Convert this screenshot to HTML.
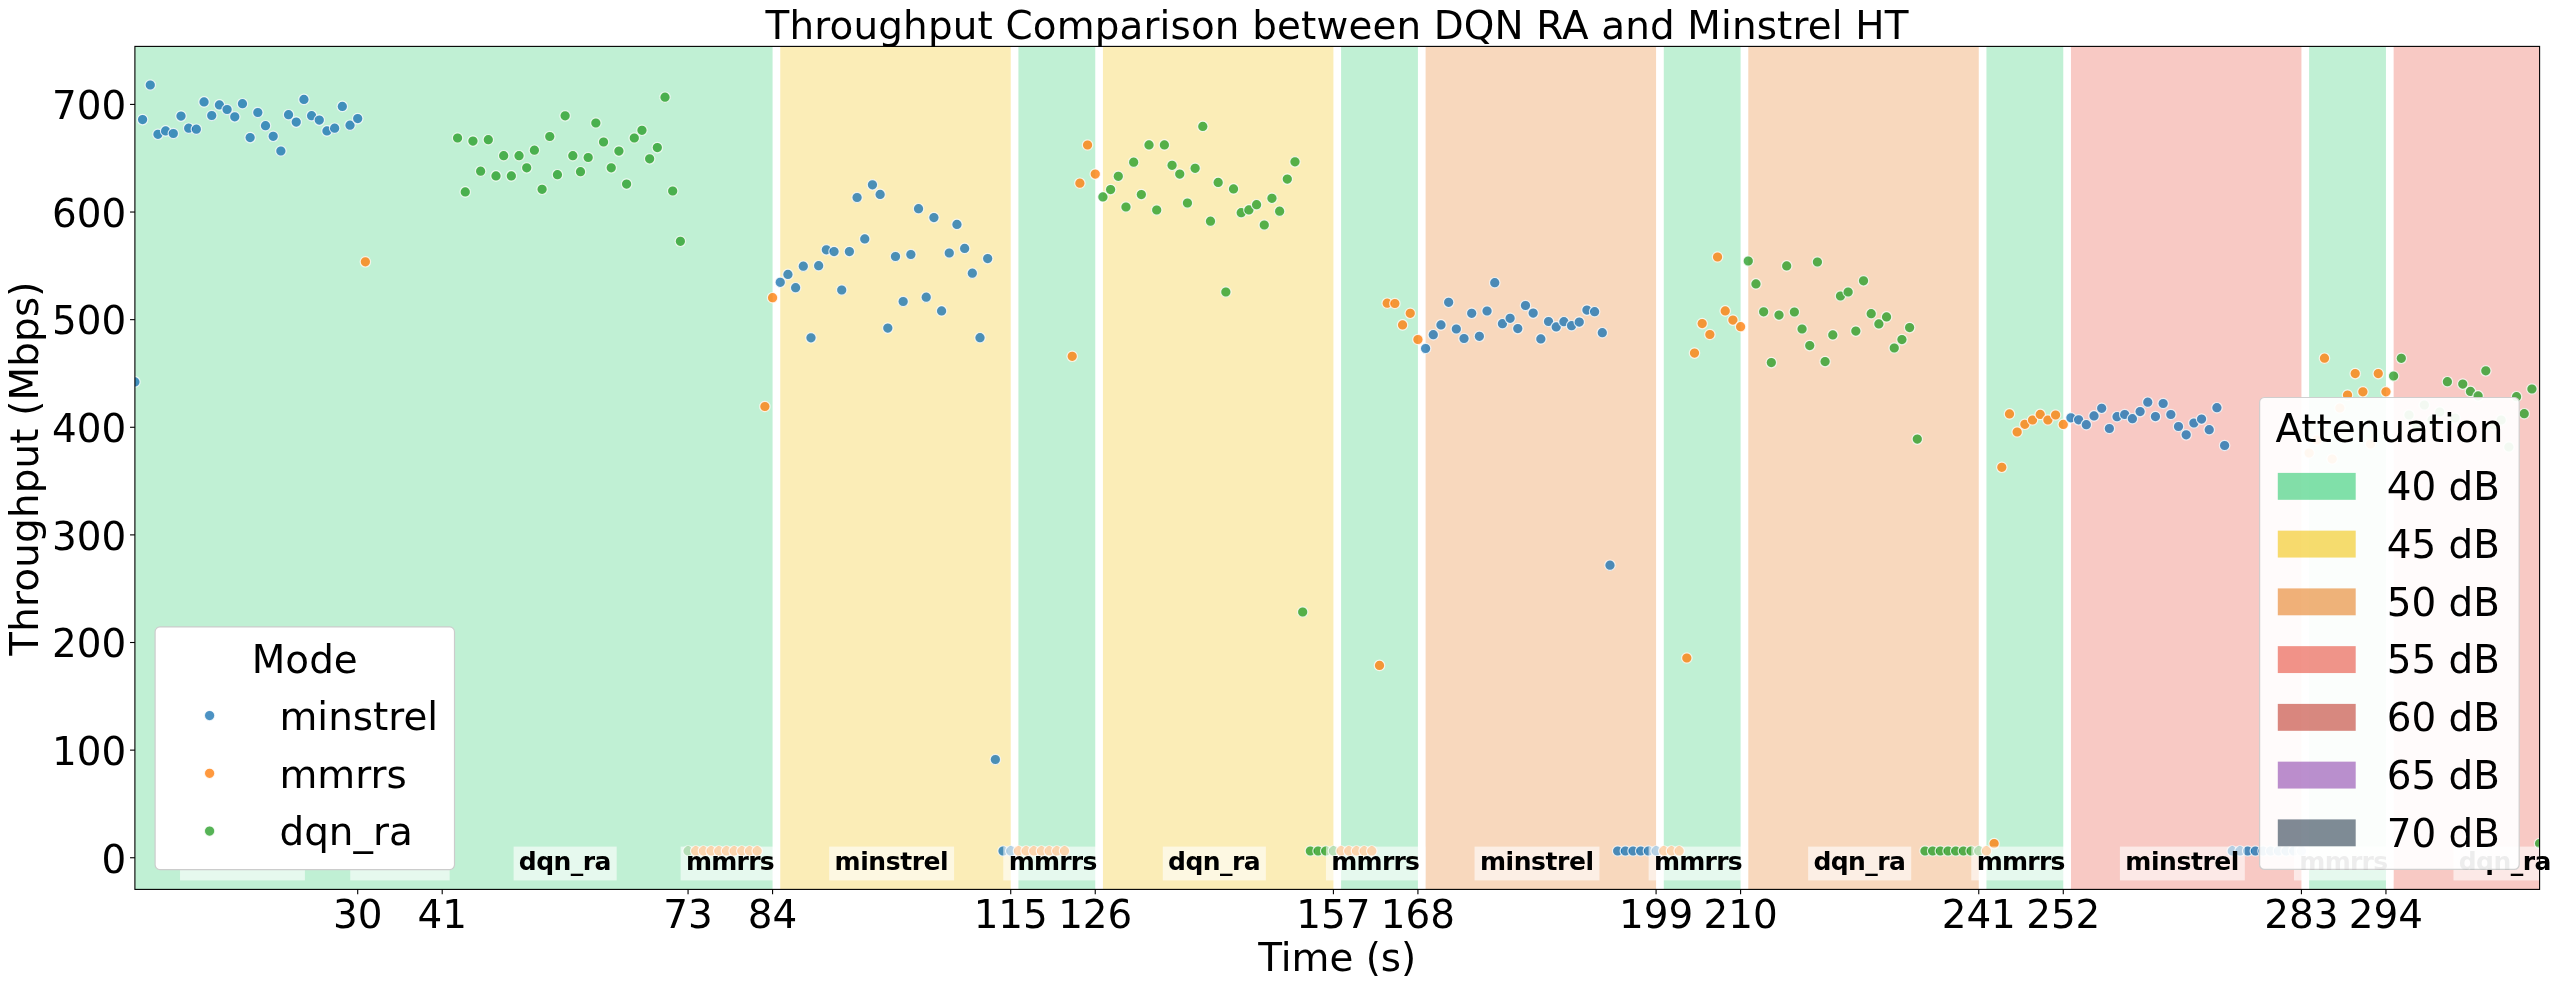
<!DOCTYPE html><html><head><meta charset="utf-8"><title>Throughput Comparison between DQN RA and Minstrel HT</title>
<style>html,body{margin:0;padding:0;background:#fff;}svg{display:block;will-change:transform;}text{font-family:"DejaVu Sans","Liberation Sans",sans-serif;}</style></head><body>
<svg width="2560" height="988" viewBox="0 0 2560 988">
<defs><clipPath id="ax"><rect x="134.9" y="46.4" width="2404.7" height="843"/></clipPath></defs>
<rect width="2560" height="988" fill="#fff"/>
<rect x="134.9" y="46.4" width="637.67" height="843" fill="#c0f0d4"/>
<rect x="780.25" y="46.4" width="230.48" height="843" fill="#fbedb7"/>
<rect x="1018.42" y="46.4" width="76.83" height="843" fill="#c0f0d4"/>
<rect x="1102.93" y="46.4" width="230.48" height="843" fill="#fbedb7"/>
<rect x="1341.09" y="46.4" width="76.83" height="843" fill="#c0f0d4"/>
<rect x="1425.6" y="46.4" width="230.48" height="843" fill="#f8d8bd"/>
<rect x="1663.77" y="46.4" width="76.83" height="843" fill="#c0f0d4"/>
<rect x="1748.28" y="46.4" width="230.48" height="843" fill="#f8d8bd"/>
<rect x="1986.44" y="46.4" width="76.83" height="843" fill="#c0f0d4"/>
<rect x="2070.95" y="46.4" width="230.48" height="843" fill="#f8c9c4"/>
<rect x="2309.12" y="46.4" width="76.83" height="843" fill="#c0f0d4"/>
<rect x="2393.63" y="46.4" width="145.97" height="843" fill="#f8c9c4"/>
<g clip-path="url(#ax)" stroke="#fff" stroke-width="1.2" stroke-opacity="0.8" fill-opacity="0.8">
<circle cx="134.9" cy="381.9" r="5.2" fill="#1f77b4"/>
<circle cx="142.58" cy="119.6" r="5.2" fill="#1f77b4"/>
<circle cx="150.27" cy="85" r="5.2" fill="#1f77b4"/>
<circle cx="157.95" cy="134.3" r="5.2" fill="#1f77b4"/>
<circle cx="165.63" cy="130.9" r="5.2" fill="#1f77b4"/>
<circle cx="173.31" cy="133.5" r="5.2" fill="#1f77b4"/>
<circle cx="181" cy="116.1" r="5.2" fill="#1f77b4"/>
<circle cx="188.68" cy="128.2" r="5.2" fill="#1f77b4"/>
<circle cx="196.36" cy="129.2" r="5.2" fill="#1f77b4"/>
<circle cx="204.04" cy="101.9" r="5.2" fill="#1f77b4"/>
<circle cx="211.73" cy="115.5" r="5.2" fill="#1f77b4"/>
<circle cx="219.41" cy="104.9" r="5.2" fill="#1f77b4"/>
<circle cx="227.09" cy="109.5" r="5.2" fill="#1f77b4"/>
<circle cx="234.78" cy="116.8" r="5.2" fill="#1f77b4"/>
<circle cx="242.46" cy="103.7" r="5.2" fill="#1f77b4"/>
<circle cx="250.14" cy="137.6" r="5.2" fill="#1f77b4"/>
<circle cx="257.82" cy="112.5" r="5.2" fill="#1f77b4"/>
<circle cx="265.51" cy="125.7" r="5.2" fill="#1f77b4"/>
<circle cx="273.19" cy="136.3" r="5.2" fill="#1f77b4"/>
<circle cx="280.87" cy="151" r="5.2" fill="#1f77b4"/>
<circle cx="288.55" cy="114.7" r="5.2" fill="#1f77b4"/>
<circle cx="296.24" cy="122.1" r="5.2" fill="#1f77b4"/>
<circle cx="303.92" cy="99.4" r="5.2" fill="#1f77b4"/>
<circle cx="311.6" cy="115.7" r="5.2" fill="#1f77b4"/>
<circle cx="319.29" cy="120.1" r="5.2" fill="#1f77b4"/>
<circle cx="326.97" cy="130.9" r="5.2" fill="#1f77b4"/>
<circle cx="334.65" cy="128.2" r="5.2" fill="#1f77b4"/>
<circle cx="342.33" cy="106.4" r="5.2" fill="#1f77b4"/>
<circle cx="350.02" cy="125.2" r="5.2" fill="#1f77b4"/>
<circle cx="357.7" cy="118.6" r="5.2" fill="#1f77b4"/>
<circle cx="365.38" cy="261.8" r="5.2" fill="#ff7f0e"/>
<circle cx="373.07" cy="851" r="5.2" fill="#ff7f0e"/>
<circle cx="380.75" cy="851" r="5.2" fill="#ff7f0e"/>
<circle cx="388.43" cy="851" r="5.2" fill="#ff7f0e"/>
<circle cx="396.11" cy="851" r="5.2" fill="#ff7f0e"/>
<circle cx="403.8" cy="851" r="5.2" fill="#ff7f0e"/>
<circle cx="411.48" cy="851" r="5.2" fill="#ff7f0e"/>
<circle cx="419.16" cy="851" r="5.2" fill="#ff7f0e"/>
<circle cx="426.84" cy="851" r="5.2" fill="#ff7f0e"/>
<circle cx="434.53" cy="851" r="5.2" fill="#ff7f0e"/>
<circle cx="442.21" cy="851" r="5.2" fill="#ff7f0e"/>
<circle cx="457.58" cy="138" r="5.2" fill="#2ca02c"/>
<circle cx="465.26" cy="191.9" r="5.2" fill="#2ca02c"/>
<circle cx="472.94" cy="141.1" r="5.2" fill="#2ca02c"/>
<circle cx="480.62" cy="171.2" r="5.2" fill="#2ca02c"/>
<circle cx="488.31" cy="139.7" r="5.2" fill="#2ca02c"/>
<circle cx="495.99" cy="175.9" r="5.2" fill="#2ca02c"/>
<circle cx="503.67" cy="155.7" r="5.2" fill="#2ca02c"/>
<circle cx="511.35" cy="175.9" r="5.2" fill="#2ca02c"/>
<circle cx="519.04" cy="155.7" r="5.2" fill="#2ca02c"/>
<circle cx="526.72" cy="167.8" r="5.2" fill="#2ca02c"/>
<circle cx="534.4" cy="150.2" r="5.2" fill="#2ca02c"/>
<circle cx="542.09" cy="189.3" r="5.2" fill="#2ca02c"/>
<circle cx="549.77" cy="136.5" r="5.2" fill="#2ca02c"/>
<circle cx="557.45" cy="174.7" r="5.2" fill="#2ca02c"/>
<circle cx="565.13" cy="115.8" r="5.2" fill="#2ca02c"/>
<circle cx="572.82" cy="155.7" r="5.2" fill="#2ca02c"/>
<circle cx="580.5" cy="171.7" r="5.2" fill="#2ca02c"/>
<circle cx="588.18" cy="157.5" r="5.2" fill="#2ca02c"/>
<circle cx="595.86" cy="123" r="5.2" fill="#2ca02c"/>
<circle cx="603.55" cy="142" r="5.2" fill="#2ca02c"/>
<circle cx="611.23" cy="167.8" r="5.2" fill="#2ca02c"/>
<circle cx="618.91" cy="151.1" r="5.2" fill="#2ca02c"/>
<circle cx="626.6" cy="184.1" r="5.2" fill="#2ca02c"/>
<circle cx="634.28" cy="138" r="5.2" fill="#2ca02c"/>
<circle cx="641.96" cy="130.3" r="5.2" fill="#2ca02c"/>
<circle cx="649.64" cy="158.8" r="5.2" fill="#2ca02c"/>
<circle cx="657.33" cy="147.6" r="5.2" fill="#2ca02c"/>
<circle cx="665.01" cy="97.2" r="5.2" fill="#2ca02c"/>
<circle cx="672.69" cy="191" r="5.2" fill="#2ca02c"/>
<circle cx="680.38" cy="241.3" r="5.2" fill="#2ca02c"/>
<circle cx="688.06" cy="851" r="5.2" fill="#2ca02c"/>
<circle cx="695.74" cy="851" r="5.2" fill="#ff7f0e"/>
<circle cx="703.42" cy="851" r="5.2" fill="#ff7f0e"/>
<circle cx="711.11" cy="851" r="5.2" fill="#ff7f0e"/>
<circle cx="718.79" cy="851" r="5.2" fill="#ff7f0e"/>
<circle cx="726.47" cy="851" r="5.2" fill="#ff7f0e"/>
<circle cx="734.15" cy="851" r="5.2" fill="#ff7f0e"/>
<circle cx="741.84" cy="851" r="5.2" fill="#ff7f0e"/>
<circle cx="749.52" cy="851" r="5.2" fill="#ff7f0e"/>
<circle cx="757.2" cy="851" r="5.2" fill="#ff7f0e"/>
<circle cx="764.89" cy="406.5" r="5.2" fill="#ff7f0e"/>
<circle cx="772.57" cy="297.7" r="5.2" fill="#ff7f0e"/>
<circle cx="780.25" cy="282.3" r="5.2" fill="#1f77b4"/>
<circle cx="787.93" cy="274.4" r="5.2" fill="#1f77b4"/>
<circle cx="795.62" cy="287.7" r="5.2" fill="#1f77b4"/>
<circle cx="803.3" cy="266.2" r="5.2" fill="#1f77b4"/>
<circle cx="810.98" cy="337.8" r="5.2" fill="#1f77b4"/>
<circle cx="818.66" cy="265.7" r="5.2" fill="#1f77b4"/>
<circle cx="826.35" cy="249.8" r="5.2" fill="#1f77b4"/>
<circle cx="834.03" cy="251.6" r="5.2" fill="#1f77b4"/>
<circle cx="841.71" cy="290" r="5.2" fill="#1f77b4"/>
<circle cx="849.4" cy="251.6" r="5.2" fill="#1f77b4"/>
<circle cx="857.08" cy="197.5" r="5.2" fill="#1f77b4"/>
<circle cx="864.76" cy="238.9" r="5.2" fill="#1f77b4"/>
<circle cx="872.44" cy="184.8" r="5.2" fill="#1f77b4"/>
<circle cx="880.13" cy="194.4" r="5.2" fill="#1f77b4"/>
<circle cx="887.81" cy="328.1" r="5.2" fill="#1f77b4"/>
<circle cx="895.49" cy="256.5" r="5.2" fill="#1f77b4"/>
<circle cx="903.17" cy="301.5" r="5.2" fill="#1f77b4"/>
<circle cx="910.86" cy="254.5" r="5.2" fill="#1f77b4"/>
<circle cx="918.54" cy="208.7" r="5.2" fill="#1f77b4"/>
<circle cx="926.22" cy="297.2" r="5.2" fill="#1f77b4"/>
<circle cx="933.91" cy="217.6" r="5.2" fill="#1f77b4"/>
<circle cx="941.59" cy="310.9" r="5.2" fill="#1f77b4"/>
<circle cx="949.27" cy="253" r="5.2" fill="#1f77b4"/>
<circle cx="956.95" cy="224.4" r="5.2" fill="#1f77b4"/>
<circle cx="964.64" cy="248.4" r="5.2" fill="#1f77b4"/>
<circle cx="972.32" cy="273.2" r="5.2" fill="#1f77b4"/>
<circle cx="980" cy="337.7" r="5.2" fill="#1f77b4"/>
<circle cx="987.68" cy="258.6" r="5.2" fill="#1f77b4"/>
<circle cx="995.37" cy="759.5" r="5.2" fill="#1f77b4"/>
<circle cx="1003.05" cy="851" r="5.2" fill="#1f77b4"/>
<circle cx="1010.73" cy="851" r="5.2" fill="#1f77b4"/>
<circle cx="1018.42" cy="851" r="5.2" fill="#ff7f0e"/>
<circle cx="1026.1" cy="851" r="5.2" fill="#ff7f0e"/>
<circle cx="1033.78" cy="851" r="5.2" fill="#ff7f0e"/>
<circle cx="1041.46" cy="851" r="5.2" fill="#ff7f0e"/>
<circle cx="1049.15" cy="851" r="5.2" fill="#ff7f0e"/>
<circle cx="1056.83" cy="851" r="5.2" fill="#ff7f0e"/>
<circle cx="1064.51" cy="851" r="5.2" fill="#ff7f0e"/>
<circle cx="1072.2" cy="356.3" r="5.2" fill="#ff7f0e"/>
<circle cx="1079.88" cy="183.2" r="5.2" fill="#ff7f0e"/>
<circle cx="1087.56" cy="145" r="5.2" fill="#ff7f0e"/>
<circle cx="1095.24" cy="174.1" r="5.2" fill="#ff7f0e"/>
<circle cx="1102.93" cy="196.9" r="5.2" fill="#2ca02c"/>
<circle cx="1110.61" cy="189.6" r="5.2" fill="#2ca02c"/>
<circle cx="1118.29" cy="176.3" r="5.2" fill="#2ca02c"/>
<circle cx="1125.97" cy="207" r="5.2" fill="#2ca02c"/>
<circle cx="1133.66" cy="162.2" r="5.2" fill="#2ca02c"/>
<circle cx="1141.34" cy="194.6" r="5.2" fill="#2ca02c"/>
<circle cx="1149.02" cy="144.9" r="5.2" fill="#2ca02c"/>
<circle cx="1156.71" cy="210" r="5.2" fill="#2ca02c"/>
<circle cx="1164.39" cy="144.9" r="5.2" fill="#2ca02c"/>
<circle cx="1172.07" cy="165.3" r="5.2" fill="#2ca02c"/>
<circle cx="1179.75" cy="174.1" r="5.2" fill="#2ca02c"/>
<circle cx="1187.44" cy="203" r="5.2" fill="#2ca02c"/>
<circle cx="1195.12" cy="168.3" r="5.2" fill="#2ca02c"/>
<circle cx="1202.8" cy="126.4" r="5.2" fill="#2ca02c"/>
<circle cx="1210.48" cy="221.2" r="5.2" fill="#2ca02c"/>
<circle cx="1218.17" cy="182.4" r="5.2" fill="#2ca02c"/>
<circle cx="1225.85" cy="292" r="5.2" fill="#2ca02c"/>
<circle cx="1233.53" cy="188.9" r="5.2" fill="#2ca02c"/>
<circle cx="1241.22" cy="212.7" r="5.2" fill="#2ca02c"/>
<circle cx="1248.9" cy="209.9" r="5.2" fill="#2ca02c"/>
<circle cx="1256.58" cy="204.7" r="5.2" fill="#2ca02c"/>
<circle cx="1264.26" cy="225" r="5.2" fill="#2ca02c"/>
<circle cx="1271.95" cy="198.3" r="5.2" fill="#2ca02c"/>
<circle cx="1279.63" cy="211.2" r="5.2" fill="#2ca02c"/>
<circle cx="1287.31" cy="179.1" r="5.2" fill="#2ca02c"/>
<circle cx="1294.99" cy="161.8" r="5.2" fill="#2ca02c"/>
<circle cx="1302.68" cy="612" r="5.2" fill="#2ca02c"/>
<circle cx="1310.36" cy="851" r="5.2" fill="#2ca02c"/>
<circle cx="1318.04" cy="851" r="5.2" fill="#2ca02c"/>
<circle cx="1325.73" cy="851" r="5.2" fill="#2ca02c"/>
<circle cx="1333.41" cy="851" r="5.2" fill="#2ca02c"/>
<circle cx="1341.09" cy="851" r="5.2" fill="#ff7f0e"/>
<circle cx="1348.77" cy="851" r="5.2" fill="#ff7f0e"/>
<circle cx="1356.46" cy="851" r="5.2" fill="#ff7f0e"/>
<circle cx="1364.14" cy="851" r="5.2" fill="#ff7f0e"/>
<circle cx="1371.82" cy="851" r="5.2" fill="#ff7f0e"/>
<circle cx="1379.51" cy="665.4" r="5.2" fill="#ff7f0e"/>
<circle cx="1387.19" cy="303.2" r="5.2" fill="#ff7f0e"/>
<circle cx="1394.87" cy="303.5" r="5.2" fill="#ff7f0e"/>
<circle cx="1402.55" cy="324.9" r="5.2" fill="#ff7f0e"/>
<circle cx="1410.24" cy="313.3" r="5.2" fill="#ff7f0e"/>
<circle cx="1417.92" cy="339.5" r="5.2" fill="#ff7f0e"/>
<circle cx="1425.6" cy="348.5" r="5.2" fill="#1f77b4"/>
<circle cx="1433.28" cy="334.7" r="5.2" fill="#1f77b4"/>
<circle cx="1440.97" cy="324.9" r="5.2" fill="#1f77b4"/>
<circle cx="1448.65" cy="302.3" r="5.2" fill="#1f77b4"/>
<circle cx="1456.33" cy="329" r="5.2" fill="#1f77b4"/>
<circle cx="1464.02" cy="338.5" r="5.2" fill="#1f77b4"/>
<circle cx="1471.7" cy="313.3" r="5.2" fill="#1f77b4"/>
<circle cx="1479.38" cy="336.3" r="5.2" fill="#1f77b4"/>
<circle cx="1487.06" cy="311" r="5.2" fill="#1f77b4"/>
<circle cx="1494.75" cy="282.7" r="5.2" fill="#1f77b4"/>
<circle cx="1502.43" cy="323.7" r="5.2" fill="#1f77b4"/>
<circle cx="1510.11" cy="318.3" r="5.2" fill="#1f77b4"/>
<circle cx="1517.79" cy="328.6" r="5.2" fill="#1f77b4"/>
<circle cx="1525.48" cy="305.5" r="5.2" fill="#1f77b4"/>
<circle cx="1533.16" cy="313.1" r="5.2" fill="#1f77b4"/>
<circle cx="1540.84" cy="338.9" r="5.2" fill="#1f77b4"/>
<circle cx="1548.53" cy="321.5" r="5.2" fill="#1f77b4"/>
<circle cx="1556.21" cy="326.9" r="5.2" fill="#1f77b4"/>
<circle cx="1563.89" cy="321.7" r="5.2" fill="#1f77b4"/>
<circle cx="1571.57" cy="325.7" r="5.2" fill="#1f77b4"/>
<circle cx="1579.26" cy="322.1" r="5.2" fill="#1f77b4"/>
<circle cx="1586.94" cy="310.1" r="5.2" fill="#1f77b4"/>
<circle cx="1594.62" cy="311.7" r="5.2" fill="#1f77b4"/>
<circle cx="1602.3" cy="332.7" r="5.2" fill="#1f77b4"/>
<circle cx="1609.99" cy="565.2" r="5.2" fill="#1f77b4"/>
<circle cx="1617.67" cy="851" r="5.2" fill="#1f77b4"/>
<circle cx="1625.35" cy="851" r="5.2" fill="#1f77b4"/>
<circle cx="1633.04" cy="851" r="5.2" fill="#1f77b4"/>
<circle cx="1640.72" cy="851" r="5.2" fill="#1f77b4"/>
<circle cx="1648.4" cy="851" r="5.2" fill="#1f77b4"/>
<circle cx="1656.08" cy="851" r="5.2" fill="#1f77b4"/>
<circle cx="1663.77" cy="851" r="5.2" fill="#ff7f0e"/>
<circle cx="1671.45" cy="851" r="5.2" fill="#ff7f0e"/>
<circle cx="1679.13" cy="851" r="5.2" fill="#ff7f0e"/>
<circle cx="1686.82" cy="658" r="5.2" fill="#ff7f0e"/>
<circle cx="1694.5" cy="353.1" r="5.2" fill="#ff7f0e"/>
<circle cx="1702.18" cy="323.6" r="5.2" fill="#ff7f0e"/>
<circle cx="1709.86" cy="334.5" r="5.2" fill="#ff7f0e"/>
<circle cx="1717.55" cy="257" r="5.2" fill="#ff7f0e"/>
<circle cx="1725.23" cy="310.9" r="5.2" fill="#ff7f0e"/>
<circle cx="1732.91" cy="320.1" r="5.2" fill="#ff7f0e"/>
<circle cx="1740.59" cy="326.7" r="5.2" fill="#ff7f0e"/>
<circle cx="1748.28" cy="261" r="5.2" fill="#2ca02c"/>
<circle cx="1755.96" cy="283.9" r="5.2" fill="#2ca02c"/>
<circle cx="1763.64" cy="311.8" r="5.2" fill="#2ca02c"/>
<circle cx="1771.33" cy="362.6" r="5.2" fill="#2ca02c"/>
<circle cx="1779.01" cy="315.1" r="5.2" fill="#2ca02c"/>
<circle cx="1786.69" cy="265.9" r="5.2" fill="#2ca02c"/>
<circle cx="1794.37" cy="312" r="5.2" fill="#2ca02c"/>
<circle cx="1802.06" cy="329" r="5.2" fill="#2ca02c"/>
<circle cx="1809.74" cy="345.6" r="5.2" fill="#2ca02c"/>
<circle cx="1817.42" cy="262" r="5.2" fill="#2ca02c"/>
<circle cx="1825.1" cy="361.6" r="5.2" fill="#2ca02c"/>
<circle cx="1832.79" cy="334.9" r="5.2" fill="#2ca02c"/>
<circle cx="1840.47" cy="296" r="5.2" fill="#2ca02c"/>
<circle cx="1848.15" cy="292" r="5.2" fill="#2ca02c"/>
<circle cx="1855.84" cy="331.1" r="5.2" fill="#2ca02c"/>
<circle cx="1863.52" cy="280.8" r="5.2" fill="#2ca02c"/>
<circle cx="1871.2" cy="313.7" r="5.2" fill="#2ca02c"/>
<circle cx="1878.88" cy="323.9" r="5.2" fill="#2ca02c"/>
<circle cx="1886.57" cy="316.9" r="5.2" fill="#2ca02c"/>
<circle cx="1894.25" cy="348" r="5.2" fill="#2ca02c"/>
<circle cx="1901.93" cy="339.6" r="5.2" fill="#2ca02c"/>
<circle cx="1909.61" cy="327.6" r="5.2" fill="#2ca02c"/>
<circle cx="1917.3" cy="439.1" r="5.2" fill="#2ca02c"/>
<circle cx="1924.98" cy="851" r="5.2" fill="#2ca02c"/>
<circle cx="1932.66" cy="851" r="5.2" fill="#2ca02c"/>
<circle cx="1940.35" cy="851" r="5.2" fill="#2ca02c"/>
<circle cx="1948.03" cy="851" r="5.2" fill="#2ca02c"/>
<circle cx="1955.71" cy="851" r="5.2" fill="#2ca02c"/>
<circle cx="1963.39" cy="851" r="5.2" fill="#2ca02c"/>
<circle cx="1971.08" cy="851" r="5.2" fill="#2ca02c"/>
<circle cx="1978.76" cy="851" r="5.2" fill="#2ca02c"/>
<circle cx="1986.44" cy="851" r="5.2" fill="#ff7f0e"/>
<circle cx="1994.12" cy="843.6" r="5.2" fill="#ff7f0e"/>
<circle cx="2001.81" cy="467.3" r="5.2" fill="#ff7f0e"/>
<circle cx="2009.49" cy="413.9" r="5.2" fill="#ff7f0e"/>
<circle cx="2017.17" cy="432" r="5.2" fill="#ff7f0e"/>
<circle cx="2024.86" cy="424.3" r="5.2" fill="#ff7f0e"/>
<circle cx="2032.54" cy="420" r="5.2" fill="#ff7f0e"/>
<circle cx="2040.22" cy="414.4" r="5.2" fill="#ff7f0e"/>
<circle cx="2047.9" cy="420" r="5.2" fill="#ff7f0e"/>
<circle cx="2055.59" cy="415" r="5.2" fill="#ff7f0e"/>
<circle cx="2063.27" cy="424.4" r="5.2" fill="#ff7f0e"/>
<circle cx="2070.95" cy="417.8" r="5.2" fill="#1f77b4"/>
<circle cx="2078.64" cy="419.8" r="5.2" fill="#1f77b4"/>
<circle cx="2086.32" cy="424.7" r="5.2" fill="#1f77b4"/>
<circle cx="2094" cy="415.9" r="5.2" fill="#1f77b4"/>
<circle cx="2101.68" cy="408.3" r="5.2" fill="#1f77b4"/>
<circle cx="2109.37" cy="428.5" r="5.2" fill="#1f77b4"/>
<circle cx="2117.05" cy="416.7" r="5.2" fill="#1f77b4"/>
<circle cx="2124.73" cy="414.5" r="5.2" fill="#1f77b4"/>
<circle cx="2132.41" cy="418.7" r="5.2" fill="#1f77b4"/>
<circle cx="2140.1" cy="411.6" r="5.2" fill="#1f77b4"/>
<circle cx="2147.78" cy="402.2" r="5.2" fill="#1f77b4"/>
<circle cx="2155.46" cy="416.6" r="5.2" fill="#1f77b4"/>
<circle cx="2163.15" cy="403.5" r="5.2" fill="#1f77b4"/>
<circle cx="2170.83" cy="414.5" r="5.2" fill="#1f77b4"/>
<circle cx="2178.51" cy="426.5" r="5.2" fill="#1f77b4"/>
<circle cx="2186.19" cy="434.8" r="5.2" fill="#1f77b4"/>
<circle cx="2193.88" cy="423" r="5.2" fill="#1f77b4"/>
<circle cx="2201.56" cy="419.1" r="5.2" fill="#1f77b4"/>
<circle cx="2209.24" cy="429.7" r="5.2" fill="#1f77b4"/>
<circle cx="2216.92" cy="407.7" r="5.2" fill="#1f77b4"/>
<circle cx="2224.61" cy="445.5" r="5.2" fill="#1f77b4"/>
<circle cx="2232.29" cy="851" r="5.2" fill="#1f77b4"/>
<circle cx="2239.97" cy="851" r="5.2" fill="#1f77b4"/>
<circle cx="2247.66" cy="851" r="5.2" fill="#1f77b4"/>
<circle cx="2255.34" cy="851" r="5.2" fill="#1f77b4"/>
<circle cx="2263.02" cy="851" r="5.2" fill="#1f77b4"/>
<circle cx="2270.7" cy="851" r="5.2" fill="#1f77b4"/>
<circle cx="2278.39" cy="851" r="5.2" fill="#1f77b4"/>
<circle cx="2286.07" cy="851" r="5.2" fill="#1f77b4"/>
<circle cx="2293.75" cy="851" r="5.2" fill="#1f77b4"/>
<circle cx="2301.43" cy="851" r="5.2" fill="#1f77b4"/>
<circle cx="2309.12" cy="453" r="5.2" fill="#ff7f0e"/>
<circle cx="2316.8" cy="440" r="5.2" fill="#ff7f0e"/>
<circle cx="2324.48" cy="358.2" r="5.2" fill="#ff7f0e"/>
<circle cx="2332.17" cy="459" r="5.2" fill="#ff7f0e"/>
<circle cx="2339.85" cy="408" r="5.2" fill="#ff7f0e"/>
<circle cx="2347.53" cy="395.1" r="5.2" fill="#ff7f0e"/>
<circle cx="2355.21" cy="373.6" r="5.2" fill="#ff7f0e"/>
<circle cx="2362.9" cy="391.8" r="5.2" fill="#ff7f0e"/>
<circle cx="2370.58" cy="444" r="5.2" fill="#ff7f0e"/>
<circle cx="2378.26" cy="373.6" r="5.2" fill="#ff7f0e"/>
<circle cx="2385.95" cy="391.8" r="5.2" fill="#ff7f0e"/>
<circle cx="2393.63" cy="376" r="5.2" fill="#2ca02c"/>
<circle cx="2401.31" cy="358.3" r="5.2" fill="#2ca02c"/>
<circle cx="2408.99" cy="415" r="5.2" fill="#2ca02c"/>
<circle cx="2416.68" cy="425" r="5.2" fill="#2ca02c"/>
<circle cx="2424.36" cy="405" r="5.2" fill="#2ca02c"/>
<circle cx="2432.04" cy="420" r="5.2" fill="#2ca02c"/>
<circle cx="2439.72" cy="412" r="5.2" fill="#2ca02c"/>
<circle cx="2447.41" cy="381.7" r="5.2" fill="#2ca02c"/>
<circle cx="2455.09" cy="418" r="5.2" fill="#2ca02c"/>
<circle cx="2462.77" cy="384.1" r="5.2" fill="#2ca02c"/>
<circle cx="2470.46" cy="391.4" r="5.2" fill="#2ca02c"/>
<circle cx="2478.14" cy="395.9" r="5.2" fill="#2ca02c"/>
<circle cx="2485.82" cy="370.8" r="5.2" fill="#2ca02c"/>
<circle cx="2493.5" cy="425" r="5.2" fill="#2ca02c"/>
<circle cx="2501.19" cy="420" r="5.2" fill="#2ca02c"/>
<circle cx="2508.87" cy="447" r="5.2" fill="#2ca02c"/>
<circle cx="2516.55" cy="396.7" r="5.2" fill="#2ca02c"/>
<circle cx="2524.23" cy="413.7" r="5.2" fill="#2ca02c"/>
<circle cx="2531.92" cy="389" r="5.2" fill="#2ca02c"/>
<circle cx="2539.6" cy="843.5" r="5.2" fill="#2ca02c"/>
</g>
<rect x="180.01" y="846.6" width="124.9" height="33.8" fill="#fff" fill-opacity="0.6"/>
<text x="242.46" y="870.3" font-size="25" font-weight="bold" text-anchor="middle" textLength="114.1" lengthAdjust="spacing">minstrel</text>
<rect x="350.23" y="846.6" width="99.44" height="33.8" fill="#fff" fill-opacity="0.6"/>
<text x="399.95" y="870.3" font-size="25" font-weight="bold" text-anchor="middle" textLength="88.7" lengthAdjust="spacing">mmrrs</text>
<rect x="513.59" y="846.6" width="103.09" height="33.8" fill="#fff" fill-opacity="0.6"/>
<text x="565.13" y="870.3" font-size="25" font-weight="bold" text-anchor="middle" textLength="92.6" lengthAdjust="spacing">dqn_ra</text>
<rect x="680.59" y="846.6" width="99.44" height="33.8" fill="#fff" fill-opacity="0.6"/>
<text x="730.31" y="870.3" font-size="25" font-weight="bold" text-anchor="middle" textLength="88.7" lengthAdjust="spacing">mmrrs</text>
<rect x="829.2" y="846.6" width="124.9" height="33.8" fill="#fff" fill-opacity="0.6"/>
<text x="891.65" y="870.3" font-size="25" font-weight="bold" text-anchor="middle" textLength="114.1" lengthAdjust="spacing">minstrel</text>
<rect x="1003.27" y="846.6" width="99.44" height="33.8" fill="#fff" fill-opacity="0.6"/>
<text x="1052.99" y="870.3" font-size="25" font-weight="bold" text-anchor="middle" textLength="88.7" lengthAdjust="spacing">mmrrs</text>
<rect x="1162.78" y="846.6" width="103.09" height="33.8" fill="#fff" fill-opacity="0.6"/>
<text x="1214.33" y="870.3" font-size="25" font-weight="bold" text-anchor="middle" textLength="92.6" lengthAdjust="spacing">dqn_ra</text>
<rect x="1325.94" y="846.6" width="99.44" height="33.8" fill="#fff" fill-opacity="0.6"/>
<text x="1375.66" y="870.3" font-size="25" font-weight="bold" text-anchor="middle" textLength="88.7" lengthAdjust="spacing">mmrrs</text>
<rect x="1474.55" y="846.6" width="124.9" height="33.8" fill="#fff" fill-opacity="0.6"/>
<text x="1537" y="870.3" font-size="25" font-weight="bold" text-anchor="middle" textLength="114.1" lengthAdjust="spacing">minstrel</text>
<rect x="1648.62" y="846.6" width="99.44" height="33.8" fill="#fff" fill-opacity="0.6"/>
<text x="1698.34" y="870.3" font-size="25" font-weight="bold" text-anchor="middle" textLength="88.7" lengthAdjust="spacing">mmrrs</text>
<rect x="1808.13" y="846.6" width="103.09" height="33.8" fill="#fff" fill-opacity="0.6"/>
<text x="1859.68" y="870.3" font-size="25" font-weight="bold" text-anchor="middle" textLength="92.6" lengthAdjust="spacing">dqn_ra</text>
<rect x="1971.29" y="846.6" width="99.44" height="33.8" fill="#fff" fill-opacity="0.6"/>
<text x="2021.01" y="870.3" font-size="25" font-weight="bold" text-anchor="middle" textLength="88.7" lengthAdjust="spacing">mmrrs</text>
<rect x="2119.9" y="846.6" width="124.9" height="33.8" fill="#fff" fill-opacity="0.6"/>
<text x="2182.35" y="870.3" font-size="25" font-weight="bold" text-anchor="middle" textLength="114.1" lengthAdjust="spacing">minstrel</text>
<rect x="2293.97" y="846.6" width="99.44" height="33.8" fill="#fff" fill-opacity="0.6"/>
<text x="2343.69" y="870.3" font-size="25" font-weight="bold" text-anchor="middle" textLength="88.7" lengthAdjust="spacing">mmrrs</text>
<rect x="2453.48" y="846.6" width="103.09" height="33.8" fill="#fff" fill-opacity="0.6"/>
<text x="2505.03" y="870.3" font-size="25" font-weight="bold" text-anchor="middle" textLength="92.6" lengthAdjust="spacing">dqn_ra</text>
<g stroke="#000" stroke-width="1.11" fill="none" stroke-linecap="square">
<rect x="134.9" y="46.4" width="2404.7" height="843"/>
</g>
<g stroke="#000" stroke-width="1.11">
<line x1="130.04" y1="857.75" x2="134.9" y2="857.75"/>
<line x1="130.04" y1="750.13" x2="134.9" y2="750.13"/>
<line x1="130.04" y1="642.51" x2="134.9" y2="642.51"/>
<line x1="130.04" y1="534.89" x2="134.9" y2="534.89"/>
<line x1="130.04" y1="427.27" x2="134.9" y2="427.27"/>
<line x1="130.04" y1="319.65" x2="134.9" y2="319.65"/>
<line x1="130.04" y1="212.03" x2="134.9" y2="212.03"/>
<line x1="130.04" y1="104.41" x2="134.9" y2="104.41"/>
<line x1="357.7" y1="889.4" x2="357.7" y2="894.26"/>
<line x1="442.21" y1="889.4" x2="442.21" y2="894.26"/>
<line x1="688.06" y1="889.4" x2="688.06" y2="894.26"/>
<line x1="772.57" y1="889.4" x2="772.57" y2="894.26"/>
<line x1="1010.73" y1="889.4" x2="1010.73" y2="894.26"/>
<line x1="1095.24" y1="889.4" x2="1095.24" y2="894.26"/>
<line x1="1333.41" y1="889.4" x2="1333.41" y2="894.26"/>
<line x1="1417.92" y1="889.4" x2="1417.92" y2="894.26"/>
<line x1="1656.08" y1="889.4" x2="1656.08" y2="894.26"/>
<line x1="1740.59" y1="889.4" x2="1740.59" y2="894.26"/>
<line x1="1978.76" y1="889.4" x2="1978.76" y2="894.26"/>
<line x1="2063.27" y1="889.4" x2="2063.27" y2="894.26"/>
<line x1="2301.43" y1="889.4" x2="2301.43" y2="894.26"/>
<line x1="2385.95" y1="889.4" x2="2385.95" y2="894.26"/>
</g>
<g font-size="38.89" fill="#000">
<text x="126.2" y="872.55" text-anchor="end">0</text>
<text x="126.2" y="764.93" text-anchor="end">100</text>
<text x="126.2" y="657.31" text-anchor="end">200</text>
<text x="126.2" y="549.69" text-anchor="end">300</text>
<text x="126.2" y="442.07" text-anchor="end">400</text>
<text x="126.2" y="334.45" text-anchor="end">500</text>
<text x="126.2" y="226.83" text-anchor="end">600</text>
<text x="126.2" y="119.21" text-anchor="end">700</text>
<text x="357.7" y="928.2" text-anchor="middle">30</text>
<text x="442.21" y="928.2" text-anchor="middle">41</text>
<text x="688.06" y="928.2" text-anchor="middle">73</text>
<text x="772.57" y="928.2" text-anchor="middle">84</text>
<text x="1010.73" y="928.2" text-anchor="middle">115</text>
<text x="1095.24" y="928.2" text-anchor="middle">126</text>
<text x="1333.41" y="928.2" text-anchor="middle">157</text>
<text x="1417.92" y="928.2" text-anchor="middle">168</text>
<text x="1656.08" y="928.2" text-anchor="middle">199</text>
<text x="1740.59" y="928.2" text-anchor="middle">210</text>
<text x="1978.76" y="928.2" text-anchor="middle">241</text>
<text x="2063.27" y="928.2" text-anchor="middle">252</text>
<text x="2301.43" y="928.2" text-anchor="middle">283</text>
<text x="2385.95" y="928.2" text-anchor="middle">294</text>
<text x="1337.25" y="970.9" text-anchor="middle">Time (s)</text>
<text transform="translate(38.4 468.6) rotate(-90)" text-anchor="middle" textLength="374.2" lengthAdjust="spacing">Throughput (Mbps)</text>
<text x="1337" y="38.5" text-anchor="middle" textLength="1142.8" lengthAdjust="spacing">Throughput Comparison between DQN RA and Minstrel HT</text>
</g>
<rect x="155.1" y="626.9" width="299.4" height="242.7" rx="4.8" fill="#fff" fill-opacity="1.0" stroke="#ccc" stroke-opacity="1.0" stroke-width="1.2"/>
<g font-size="38.89">
<text x="304.8" y="672.5" text-anchor="middle">Mode</text>
<circle cx="209.6" cy="715.6" r="5.2" fill="#1f77b4" fill-opacity="0.8" stroke="#fff" stroke-width="1.2" stroke-opacity="0.8"/>
<text x="279.5" y="729.8">minstrel</text>
<circle cx="209.6" cy="773.35" r="5.2" fill="#ff7f0e" fill-opacity="0.8" stroke="#fff" stroke-width="1.2" stroke-opacity="0.8"/>
<text x="279.5" y="787.55">mmrrs</text>
<circle cx="209.6" cy="831.1" r="5.2" fill="#2ca02c" fill-opacity="0.8" stroke="#fff" stroke-width="1.2" stroke-opacity="0.8"/>
<text x="279.5" y="845.3">dqn_ra</text>
</g>
<rect x="2259.6" y="397.5" width="259.6" height="471.9" rx="4.8" fill="#fff" fill-opacity="0.93" stroke="#ccc" stroke-opacity="0.93" stroke-width="1.2"/>
<g font-size="38.89">
<text x="2389.4" y="442.2" text-anchor="middle">Attenuation</text>
<rect x="2277.8" y="472.9" width="77.9" height="26.9" fill="#2ecc71" fill-opacity="0.6"/>
<text x="2386.8" y="500">40 dB</text>
<rect x="2277.8" y="530.65" width="77.9" height="26.9" fill="#f1c40f" fill-opacity="0.6"/>
<text x="2386.8" y="557.75">45 dB</text>
<rect x="2277.8" y="588.4" width="77.9" height="26.9" fill="#e67e22" fill-opacity="0.6"/>
<text x="2386.8" y="615.5">50 dB</text>
<rect x="2277.8" y="646.15" width="77.9" height="26.9" fill="#e74c3c" fill-opacity="0.6"/>
<text x="2386.8" y="673.25">55 dB</text>
<rect x="2277.8" y="703.9" width="77.9" height="26.9" fill="#c0392b" fill-opacity="0.6"/>
<text x="2386.8" y="731">60 dB</text>
<rect x="2277.8" y="761.65" width="77.9" height="26.9" fill="#8e44ad" fill-opacity="0.6"/>
<text x="2386.8" y="788.75">65 dB</text>
<rect x="2277.8" y="819.4" width="77.9" height="26.9" fill="#2c3e50" fill-opacity="0.6"/>
<text x="2386.8" y="846.5">70 dB</text>
</g>
</svg></body></html>
